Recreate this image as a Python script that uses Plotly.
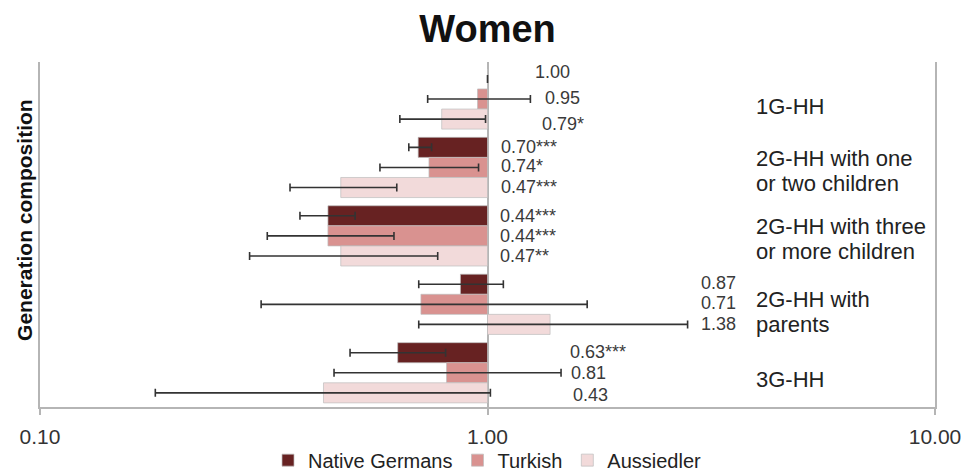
import plotly.graph_objects as go
import math

categories = ["1G-HH", "2G-HH one/two children", "2G-HH three+ children", "2G-HH with parents", "3G-HH"]
group_labels = [["1G-HH"], ["2G-HH with one", "or two children"], ["2G-HH with three", "or more children"],
                ["2G-HH with", "parents"], ["3G-HH"]]
series_names = ["Native Germans", "Turkish", "Aussiedler"]

native = [1.00, 0.70, 0.44, 0.87, 0.63]
turkish = [0.95, 0.74, 0.44, 0.71, 0.81]
aussiedler = [0.79, 0.47, 0.47, 1.38, 0.43]

native_lo = [1.00, 0.667, 0.381, 0.702, 0.493]
native_hi = [1.00, 0.750, 0.506, 1.085, 0.806]
turkish_lo = [0.735, 0.575, 0.322, 0.312, 0.454]
turkish_hi = [1.247, 0.955, 0.618, 1.67, 1.46]
aussiedler_lo = [0.637, 0.362, 0.294, 0.702, 0.181]
aussiedler_hi = [0.99, 0.627, 0.774, 2.80, 1.015]

native_sig = ["", "***", "***", "", "***"]
turkish_sig = ["", "*", "***", "", ""]
aussiedler_sig = ["*", "***", "**", "", ""]

tick_vals = [0.1, 1, 10]
tick_text = ["0.10", "1.00", "10.00"]

# label anchor positions (data units on log axis) per series, per category
label_x = [
    [1.266, 1.063, 1.058, 2.966, 1.515],
    [1.332, 1.063, 1.058, 2.966, 1.52],
    [1.312, 1.063, 1.058, 2.966, 1.54],
]
label_yshift = [[27, 20, 20, 21, 21], [1, 1, 0, 1, 0], [-25, -20, -20, -20, -22]]
group_label_shift = [-7, -4, -3, -8, -7]

colors = ["#672222", "#d99290", "#f2dada"]
vals = [native, turkish, aussiedler]
los = [native_lo, turkish_lo, aussiedler_lo]
his = [native_hi, turkish_hi, aussiedler_hi]
sigs = [native_sig, turkish_sig, aussiedler_sig]

FONT = "Liberation Sans, Arial, Helvetica, sans-serif"
FIG_H = 490

fig = go.Figure()
for name, v, lo, hi, c in zip(series_names, vals, los, his, colors):
    fig.add_trace(go.Bar(
        y=categories,
        x=[a - 1 for a in v],
        base=1,
        orientation="h",
        name=name,
        marker=dict(color=c, line=dict(color="rgba(190,190,190,0.7)", width=1)),
        error_x=dict(type="data", symmetric=False,
                     array=[h - a for h, a in zip(hi, v)],
                     arrayminus=[a - l for a, l in zip(v, lo)],
                     color="#333333", thickness=1.6, width=4),
        hoverinfo="skip",
    ))

annotations = []
for s in range(3):
    for i, cat in enumerate(categories):
        annotations.append(dict(
            x=math.log10(label_x[s][i]), y=cat, xref="x", yref="y",
            text=f"{vals[s][i]:.2f}{sigs[s][i]}", showarrow=False,
            xanchor="left", yanchor="middle", yshift=label_yshift[s][i],
            font=dict(family=FONT, size=18, color="#3a3a3a"),
        ))
for i, cat in enumerate(categories):
    lines = group_labels[i]
    n = len(lines)
    for k, line in enumerate(lines):
        off = (k - (n - 1) / 2) * 25
        annotations.append(dict(
            x=0.798, xref="paper", y=cat, yref="y", text=line,
            showarrow=False, xanchor="left", yanchor="middle", align="left",
            yshift=group_label_shift[i] - off,
            font=dict(family=FONT, size=22, color="#222222"),
        ))
annotations.append(dict(
    x=-0.018, xref="paper", y=0.542, yref="paper", text="<b>Generation composition</b>",
    textangle=-90, showarrow=False, xanchor="center", yanchor="middle",
    font=dict(family=FONT, size=21, color="#111111"),
))

fig.update_layout(
    width=969, height=FIG_H,
    margin=dict(l=29, r=42, t=54, b=FIG_H - 54 - 345),
    paper_bgcolor="white", plot_bgcolor="white",
    title=dict(text="<b>Women</b>", x=0.5, xref="paper", y=1 - 21 / FIG_H, yanchor="middle",
               font=dict(family=FONT, size=38, color="#111111")),
    barmode="group", bargap=0.12, bargroupgap=0.0,
    xaxis=dict(type="log", range=[-1, 1], tickvals=tick_vals, ticktext=tick_text,
               showgrid=True, gridcolor="#b5b5b5", gridwidth=1.5,
               showline=True, linecolor="#b5b5b5", linewidth=1.5,
               ticks="outside", ticklen=6, tickcolor="#b5b5b5", tickwidth=1.5,
               ticklabelstandoff=4,
               tickfont=dict(family=FONT, size=21, color="#333333"), zeroline=False),
    yaxis=dict(autorange="reversed", showticklabels=False, showgrid=False,
               showline=True, mirror=True, linecolor="#b5b5b5", linewidth=1.5, ticks=""),
    legend=dict(orientation="h", x=0.5, xanchor="center", y=-0.154, yanchor="middle",
                bgcolor="rgba(0,0,0,0)",
                font=dict(family=FONT, size=20, color="#222222"), traceorder="normal",
                itemwidth=30),
    annotations=annotations,
    showlegend=True,
)

fig.write_html("out.html")
